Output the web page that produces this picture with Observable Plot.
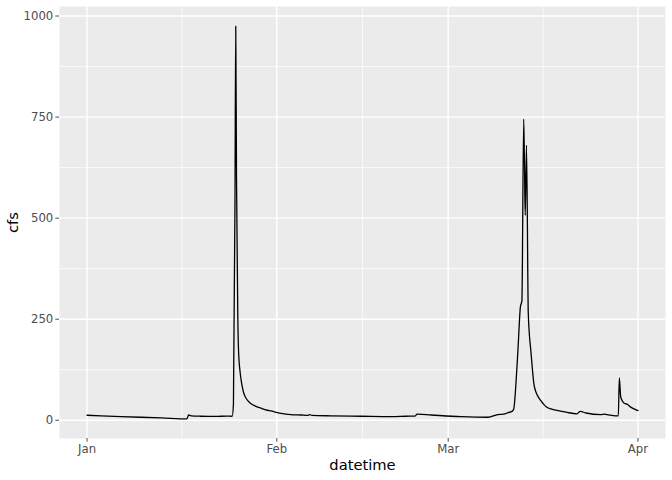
<!DOCTYPE html>
<html><head><meta charset="utf-8">
<script src="https://cdn.jsdelivr.net/npm/d3@7"></script>
<script src="https://cdn.jsdelivr.net/npm/@observablehq/plot@0.6"></script>
<style>body{margin:0;background:#fff}</style>
</head><body><div id="chart"></div>
<script>
const datetime = [
"2023-01-01T00:00","2023-01-03T07:00","2023-01-06T13:00","2023-01-09T19:00","2023-01-13T02:00",
"2023-01-17T08:00","2023-01-17T14:00","2023-01-18T00:00","2023-01-19T14:00","2023-01-22T02:00",
"2023-01-23T17:00","2023-01-24T17:00","2023-01-24T22:00","2023-01-25T04:00","2023-01-25T07:00",
"2023-01-25T10:00","2023-01-25T15:00","2023-01-25T18:00","2023-01-26T00:00","2023-01-26T04:00",
"2023-01-26T08:00","2023-01-26T14:00","2023-01-26T23:00","2023-01-27T07:00","2023-01-27T19:00",
"2023-01-28T12:00","2023-01-29T10:00","2023-01-30T05:00","2023-01-31T01:00","2023-02-01T17:00",
"2023-02-03T07:00","2023-02-04T23:00","2023-02-06T02:00","2023-02-06T08:00","2023-02-06T18:00",
"2023-02-09T21:00","2023-02-14T18:00","2023-02-19T16:00","2023-02-22T02:00","2023-02-23T14:00",
"2023-02-23T22:00","2023-02-26T05:00","2023-03-03T02:00","2023-03-07T12:00","2023-03-09T02:00",
"2023-03-10T02:00","2023-03-10T19:00","2023-03-11T10:00","2023-03-11T17:00","2023-03-12T02:00",
"2023-03-12T10:00","2023-03-12T19:00","2023-03-13T01:00","2023-03-13T08:00","2023-03-13T11:00",
"2023-03-13T14:00","2023-03-13T19:00","2023-03-14T02:00","2023-03-14T13:00","2023-03-14T19:00",
"2023-03-15T00:00","2023-03-15T08:00","2023-03-15T17:00","2023-03-16T04:00","2023-03-16T14:00",
"2023-03-17T03:00","2023-03-17T19:00","2023-03-18T14:00","2023-03-20T06:00","2023-03-22T01:00",
"2023-03-22T13:00","2023-03-23T12:00","2023-03-25T23:00","2023-03-26T11:00","2023-03-27T14:00",
"2023-03-28T19:00","2023-03-28T23:00","2023-03-29T04:00","2023-03-29T09:00","2023-03-29T18:00",
"2023-03-30T05:00","2023-03-30T21:00","2023-04-01T00:00"
];
const cfs = [
12.5, 11, 9, 7.5, 6,
3.5, 13, 11, 10, 9.5,
10.5, 10, 40, 537, 975,
600, 260, 172, 120, 100,
85, 68, 55, 48, 41,
35, 30, 26, 23, 17,
14, 13, 12, 14, 12,
11, 10, 9, 10, 10.5,
15, 13, 9, 7.5, 14,
15, 19, 22, 28, 94,
180, 280, 296, 745, 636,
507, 680, 264, 165, 120,
90, 70, 58, 48, 40,
32, 28, 25, 20, 16,
22, 18, 14, 15, 12.5,
11, 105, 60, 50, 42,
40, 32, 24
];
const xTickDates = ["2023-01-01","2023-02-01","2023-03-01","2023-04-01"];
const xTickLabels = ["Jan","Feb","Mar","Apr"];
const yTicks = [0, 250, 500, 750, 1000];
const yTickLabels = ["0", "250", "500", "750", "1000"];

const data = datetime.map((t, i) => ({datetime: new Date(t + ":00Z"), cfs: cfs[i]}));
const tx = d3.extent(data, d => d.datetime);
const px = (tx[1] - tx[0]) * 0.05;
const xDomain = [new Date(+tx[0] - px), new Date(+tx[1] + px)];
const ty = d3.extent(cfs);
const py = (ty[1] - ty[0]) * 0.05;
const yDomain = [ty[0] - py, ty[1] + py];

const xMajor = xTickDates.map(s => new Date(s + "T00:00:00Z"));
const xMinor = d3.pairs(xMajor).map(([a, b]) => new Date((+a + +b) / 2));
const yMinor = d3.pairs(yTicks).map(([a, b]) => (a + b) / 2);

const chart = Plot.plot({
  width: 672, height: 480,
  marginLeft: 59, marginRight: 7, marginTop: 6, marginBottom: 42,
  style: {fontFamily: "DejaVu Sans", background: "white", fontSize: "11.7px"},
  x: {type: "utc", domain: xDomain},
  y: {domain: yDomain},
  marks: [
    Plot.frame({fill: "#EBEBEB", stroke: null}),
    Plot.ruleY(yMinor, {stroke: "white", strokeWidth: 0.71}),
    Plot.ruleX(xMinor, {stroke: "white", strokeWidth: 0.71}),
    Plot.ruleY(yTicks, {stroke: "white", strokeWidth: 1.42}),
    Plot.ruleX(xMajor, {stroke: "white", strokeWidth: 1.42}),
    Plot.line(data, {x: "datetime", y: "cfs", stroke: "black", strokeWidth: 1.3, curve: "monotone-x"}),
    Plot.axisX({ticks: xMajor, tickFormat: d => xTickLabels[xMajor.findIndex(m => +m === +d)],
      tickSize: 3.7, tickPadding: 2.5, fontSize: 11.7, color: "#4D4D4D", label: null}),
    Plot.axisY({ticks: yTicks, tickFormat: d => yTickLabels[yTicks.indexOf(d)],
      tickSize: 3.7, tickPadding: 2.5, fontSize: 11.7, color: "#4D4D4D", label: null}),
    Plot.text(["cfs"], {text: d => d, frameAnchor: "left", dx: -46, rotate: -90, lineAnchor: "middle", textAnchor: "middle", fontSize: 14.7, fill: "black"}),
    Plot.text(["datetime"], {text: d => d, frameAnchor: "bottom", dy: 27, lineAnchor: "middle", textAnchor: "middle", fontSize: 14.7, fill: "black"})
  ]
});
document.getElementById("chart").append(chart);
</script>
</body></html>
